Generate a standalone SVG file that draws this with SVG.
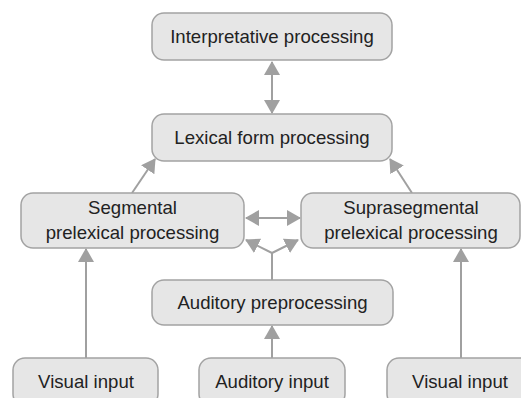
<svg xmlns="http://www.w3.org/2000/svg" width="521" height="398" viewBox="0 0 521 398">
<defs>
<style>
.box{fill:#e6e6e6;stroke:#a3a3a3;stroke-width:1.5}
.t{font-family:"Liberation Sans",Arial,sans-serif;font-size:18.6px;fill:#222;text-anchor:middle}
.c{stroke:#a0a0a0;stroke-width:2;fill:none}
</style>
<marker id="ah" markerUnits="userSpaceOnUse" markerWidth="14" markerHeight="16" viewBox="0 0 14 16" refX="13" refY="8" orient="auto-start-reverse">
<path d="M0,0 L14,8 L0,16 z" fill="#a0a0a0"/>
</marker>
</defs>
<rect width="521" height="398" fill="#fff"/>
<g id="connectors">
<line class="c" x1="272" y1="62" x2="272" y2="113" marker-start="url(#ah)" marker-end="url(#ah)"/>
<line class="c" x1="132" y1="193" x2="155" y2="159" marker-end="url(#ah)"/>
<line class="c" x1="412" y1="193" x2="390" y2="159" marker-end="url(#ah)"/>
<line class="c" x1="246" y1="218" x2="300" y2="218" marker-start="url(#ah)" marker-end="url(#ah)"/>
<polyline class="c" points="272,280 272,253"/>
<line class="c" x1="272" y1="253" x2="246" y2="240" marker-end="url(#ah)"/>
<line class="c" x1="272" y1="253" x2="298" y2="240" marker-end="url(#ah)"/>
<line class="c" x1="86" y1="358" x2="86" y2="249" marker-end="url(#ah)"/>
<line class="c" x1="461" y1="358" x2="461" y2="249" marker-end="url(#ah)"/>
<line class="c" x1="272" y1="358" x2="272" y2="326" marker-end="url(#ah)"/>
</g>
<g id="interpretative">
<rect class="box" x="152" y="13" width="240" height="47" rx="12"/>
<text class="t" x="272" y="43">Interpretative processing</text>
</g>
<g id="lexical">
<rect class="box" x="152" y="114" width="240" height="47" rx="12"/>
<text class="t" x="272" y="144">Lexical form processing</text>
</g>
<g id="segmental">
<rect class="box" x="21" y="193" width="223" height="55" rx="12"/>
<text class="t" x="132.5" y="214">Segmental</text>
<text class="t" x="132.5" y="239">prelexical processing</text>
</g>
<g id="suprasegmental">
<rect class="box" x="301" y="193" width="219" height="55" rx="12"/>
<text class="t" x="411" y="214">Suprasegmental</text>
<text class="t" x="411" y="239">prelexical processing</text>
</g>
<g id="auditory-preprocessing">
<rect class="box" x="152" y="280" width="241" height="45" rx="12"/>
<text class="t" x="272.5" y="309">Auditory preprocessing</text>
</g>
<g id="visual-input-left">
<rect class="box" x="13" y="358" width="145" height="48" rx="12"/>
<text class="t" x="86" y="388">Visual input</text>
</g>
<g id="auditory-input">
<rect class="box" x="199" y="358" width="146" height="48" rx="12"/>
<text class="t" x="272" y="388">Auditory input</text>
</g>
<g id="visual-input-right">
<rect class="box" x="387" y="358" width="146" height="48" rx="12"/>
<text class="t" x="460" y="388">Visual input</text>
</g>
</svg>
